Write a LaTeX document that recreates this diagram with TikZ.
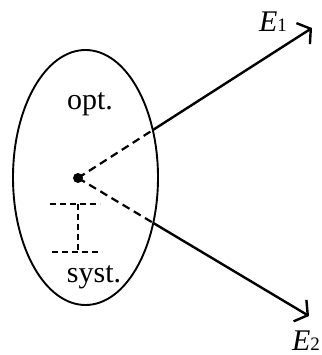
\documentclass[tikz,border=0pt]{standalone}
\usepackage{fontspec}
\setmainfont{Liberation Serif}
\usetikzlibrary{arrows.meta, shapes.geometric, intersections}
\tikzset{
  region/.style={draw, ellipse, line width=1.9pt, minimum width=145pt, minimum height=255pt, inner sep=0pt},
  bigtext/.style={font=\fontsize{30}{34}\selectfont, inner sep=0pt, anchor=base},
  rayhead/.style={-{Straight Barb[length=9pt, width=25pt]}, line width=2.4pt},
  hidden/.style={line width=2.2pt, dash pattern=on 8pt off 5pt},
  gap/.style={line width=1.9pt, dash pattern=on 6pt off 4pt},
}
\newcommand{\energy}[1]{\textit{E}{\fontsize{19}{20}\selectfont #1}}

\begin{document}
\begin{tikzpicture}[x=1pt, y=1pt]
  \useasboundingbox (0,0) rectangle (321,355);

  % --- Ellipse and labels ---
  \node[region, name path=oval] (oval) at (85.5,177.5) {};
  \node[bigtext] (opt) at (90,245) {opt.};
  \node[bigtext] (syst) at (94,72) {syst.};

  % --- Point and tips ---
  \fill (78,177) circle (5pt);
  \coordinate (pt) at (78,177);
  \coordinate (tip1) at (312,327);
  \coordinate (tip2) at (309,39);
  \node[bigtext] (e1) at (273,323) {\energy{1}};
  \node[bigtext] (e2) at (306,5) {\energy{2}};

  % --- Crossings ---
  \path[name path=line1] (pt) -- (tip1);
  \path[name path=line2] (pt) -- (tip2);
  \path[name intersections={of=oval and line1, by=x1}];
  \path[name intersections={of=oval and line2, by=x2}];

  % --- Rays ---
  \draw[hidden] (pt) -- (x1);
  \draw[hidden] (pt) -- (x2);
  \draw[rayhead] (x1) -- (tip1);
  \draw[rayhead] (x2) -- (tip2);

  % --- Gap marker ---
  \coordinate (g1l) at (50,151);
  \coordinate (g1r) at (100,151);
  \coordinate (g2l) at (52,103);
  \coordinate (g2r) at (102,103);
  \coordinate (gtop) at (78,151);
  \coordinate (gbot) at (78,103);
  \draw[gap] (g1l) -- (g1r);
  \draw[gap] (g2l) -- (g2r);
  \draw[gap] (gtop) -- (gbot);

\end{tikzpicture}
\end{document}
